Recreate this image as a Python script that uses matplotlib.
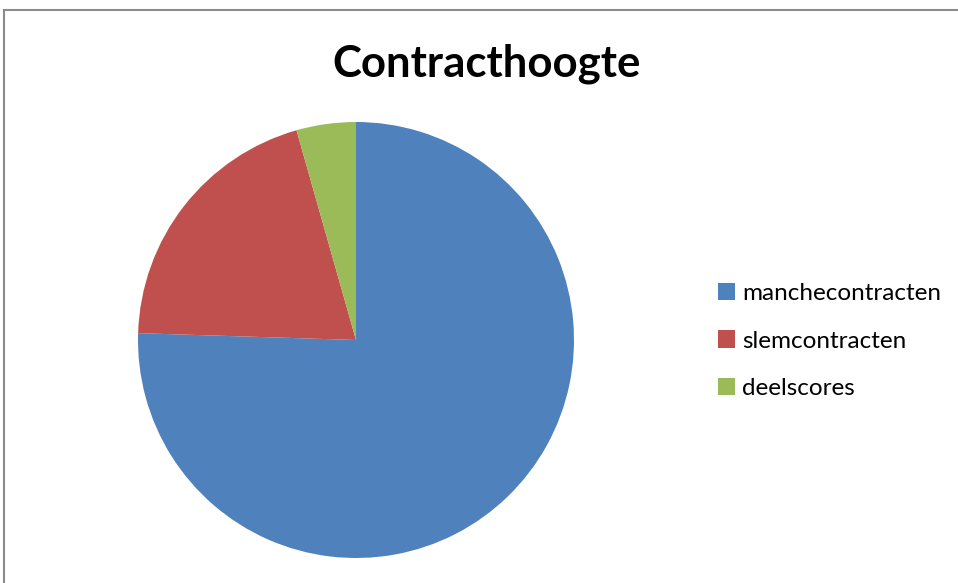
import matplotlib.pyplot as plt
from matplotlib.patches import Rectangle

plt.rcParams['font.family'] = ['Lato', 'DejaVu Sans']

# Data
labels = ['manchecontracten', 'slemcontracten', 'deelscores']
values = [75.5, 20.1, 4.4]
colors = ['#4f81bd', '#c0504d', '#9bbb59']

fig = plt.figure(figsize=(9.58, 5.83), dpi=100)

# Frame around the chart area (runs off the right and bottom edges)
fig.patches.append(Rectangle((4 / 958, -0.1), 1.2, 1.1 - 10 / 583, transform=fig.transFigure,
                             fill=False, edgecolor='#8c8c8c', linewidth=1.5))

# Pie
cx, cy, r = 356, 340, 218
ax = fig.add_axes([(cx - r) / 958, (583 - cy - r) / 583, 2 * r / 958, 2 * r / 583])
wedges, _ = ax.pie(values, colors=colors, startangle=90, counterclock=False,
                   radius=1, wedgeprops=dict(linewidth=0))
ax.set_xlim(-1, 1)
ax.set_ylim(-1, 1)
ax.set_aspect('equal')

fig.text(487 / 958, 1 - 64 / 583, 'Contracthoogte', ha='center', va='center',
         fontsize=31.5, fontweight='bold')

fig.legend(wedges, labels, loc='center left', bbox_to_anchor=(696 / 958, 1 - 341 / 583),
           frameon=False, fontsize=17.5, handlelength=0.7, handleheight=0.7,
           handletextpad=0.3, labelspacing=1.1)

plt.savefig('out.png')
